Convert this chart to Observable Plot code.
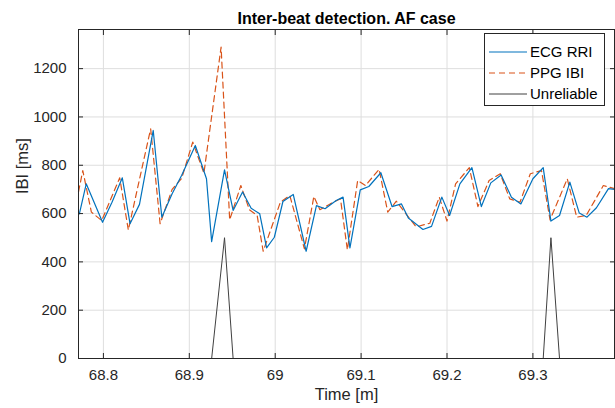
<!DOCTYPE html>
<html>
<head>
<meta charset="utf-8">
<script src="https://cdn.jsdelivr.net/npm/d3@7"></script>
<script src="https://cdn.jsdelivr.net/npm/@observablehq/plot@0.6"></script>
<style>
  html, body { margin: 0; padding: 0; background: #fff; }
  #chart { width: 615px; height: 408px; }
</style>
</head>
<body>
<div id="chart"></div>
<script>
const titleText = "Inter-beat detection. AF case";
const xLabel = "Time [m]";
const yLabel = "IBI [ms]";
const seriesNames = ["ECG RRI", "PPG IBI", "Unreliable"];

const ecgTime = [68.772, 68.780, 68.799, 68.810, 68.822, 68.831, 68.842, 68.858, 68.868, 68.880,
  68.891, 68.907, 68.920, 68.926, 68.941, 68.951, 68.962, 68.972, 68.982, 68.990,
  68.999, 69.009, 69.021, 69.036, 69.048, 69.058, 69.071, 69.079, 69.087, 69.099,
  69.109, 69.123, 69.136, 69.147, 69.155, 69.172, 69.182, 69.194, 69.203, 69.215,
  69.229, 69.240, 69.251, 69.263, 69.275, 69.286, 69.300, 69.312, 69.321, 69.331,
  69.343, 69.354, 69.363, 69.374, 69.388, 69.395];
const ecgIbi = [599, 723, 564, 647, 748, 558, 638, 944, 585, 682,
  758, 882, 744, 484, 781, 613, 689, 622, 599, 458,
  502, 650, 679, 444, 633, 620, 654, 668, 458, 698,
  712, 769, 629, 640, 582, 534, 547, 668, 592, 723,
  790, 629, 727, 760, 668, 640, 744, 790, 569, 592,
  730, 602, 585, 624, 703, 700];

const ppgTime = [68.771, 68.776, 68.786, 68.798, 68.819, 68.829, 68.855, 68.866, 68.880, 68.891,
  68.904, 68.917, 68.937, 68.947, 68.960, 68.970, 68.979, 68.986, 69.006, 69.017,
  69.034, 69.045, 69.052, 69.064, 69.076, 69.084, 69.096, 69.105, 69.121, 69.131,
  69.141, 69.164, 69.180, 69.191, 69.200, 69.210, 69.226, 69.236, 69.249, 69.262,
  69.273, 69.285, 69.297, 69.310, 69.320, 69.340, 69.351, 69.362, 69.382, 69.395];
const ppgIbi = [690, 778, 606, 571, 748, 532, 951, 558, 700, 745,
  896, 767, 1289, 574, 716, 616, 592, 444, 647, 675,
  454, 671, 616, 640, 661, 450, 737, 716, 783, 606,
  651, 545, 560, 668, 569, 723, 790, 629, 737, 765,
  661, 647, 765, 778, 574, 744, 585, 592, 716, 703];

const unrTime = [68.771, 68.926, 68.941, 68.951, 69.312, 69.321, 69.331, 69.395];
const unrVal = [0, 0, 500, 0, 0, 500, 0, 0];

const xTicks = [68.8, 68.9, 69.0, 69.1, 69.2, 69.3];
const yTicks = [0, 200, 400, 600, 800, 1000, 1200];
const xDomain = [68.771, 69.395];
const yDomain = [0, 1362];

const colors = ["#0072BD", "#D95319", "#404040"];
const font = "'Liberation Sans', Arial, Helvetica, sans-serif";
const fmtX = d => String(+d.toFixed(1));
const fmtY = d => String(d);
const ink = "#262626";

const plot = Plot.plot({
  width: 615,
  height: 408,
  marginLeft: 78,
  marginRight: 1,
  marginTop: 29,
  marginBottom: 50,
  style: { fontFamily: font, fontSize: "15px", color: ink, background: "#fff" },
  x: { domain: xDomain },
  y: { domain: yDomain },
  marks: [
    Plot.gridX(xTicks, { stroke: "#dedede", strokeOpacity: 1 }),
    Plot.gridY(yTicks, { stroke: "#dedede", strokeOpacity: 1 }),
    Plot.line(unrTime, { x: unrTime, y: unrVal, stroke: colors[2], strokeWidth: 1 }),
    Plot.line(ppgTime, { x: ppgTime, y: ppgIbi, stroke: colors[1], strokeWidth: 1.2, strokeDasharray: "6 4" }),
    Plot.line(ecgTime, { x: ecgTime, y: ecgIbi, stroke: colors[0], strokeWidth: 1.2 }),
    Plot.frame({ stroke: ink, strokeWidth: 1 }),
    Plot.axisX(xTicks, { anchor: "bottom", tickSize: -5, tickPadding: 16, tickFormat: fmtX, label: null, stroke: ink, fill: ink, fontSize: 15 }),
    Plot.axisX(xTicks, { anchor: "top", tickSize: -5, tickFormat: () => "", label: null, stroke: ink }),
    Plot.axisY(yTicks, { anchor: "left", tickSize: -5, tickPadding: 17, tickFormat: fmtY, label: null, stroke: ink, fill: ink, fontSize: 15 }),
    Plot.axisY(yTicks, { anchor: "right", tickSize: -5, tickFormat: () => "", label: null, stroke: ink }),
    Plot.text([xLabel], { frameAnchor: "bottom", dy: 41, text: d => d, fontSize: 16.5, fill: ink }),
    Plot.text([yLabel], { frameAnchor: "left", dx: -56, rotate: -90, text: d => d, fontSize: 16.5, fill: ink }),
    Plot.text([titleText], { frameAnchor: "top", dy: -17, text: d => d, fontSize: 16, fontWeight: "bold", fill: "#000" })
  ]
});

// Legend (MATLAB-style box, top-right inside the axes)
const svg = d3.select(plot);
const lg = svg.append("g").attr("font-family", font).attr("font-size", 15).attr("text-anchor", "start");
lg.append("rect").attr("x", 484.5).attr("y", 33.5).attr("width", 120).attr("height", 72)
  .attr("fill", "#fff").attr("stroke", ink).attr("stroke-width", 1);
const rowsY = [52, 73, 94];
seriesNames.forEach((name, i) => {
  const ln = lg.append("line").attr("x1", 489).attr("x2", 527).attr("y1", rowsY[i]).attr("y2", rowsY[i])
    .attr("stroke", colors[i]).attr("stroke-width", i === 2 ? 1 : 1.2);
  if (i === 1) ln.attr("stroke-dasharray", "6 4");
  lg.append("text").attr("x", 530).attr("y", rowsY[i]).attr("dy", "0.35em").attr("fill", "#000").text(name);
});

document.getElementById("chart").appendChild(plot);
</script>
</body>
</html>
